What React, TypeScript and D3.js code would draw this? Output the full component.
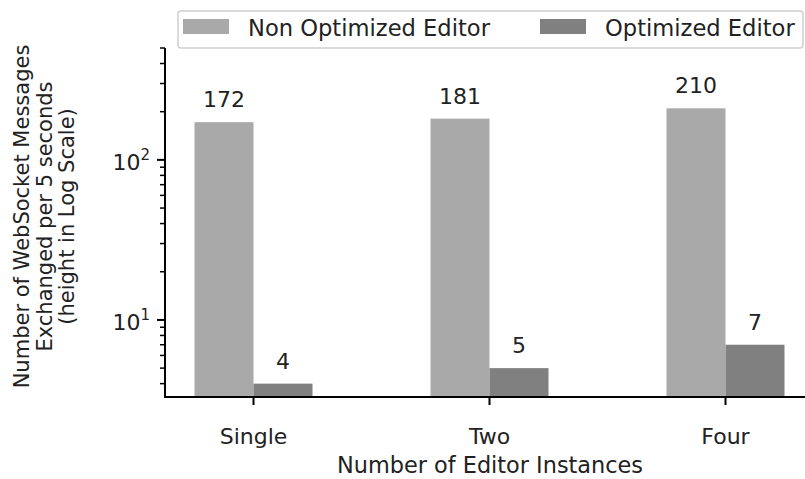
import React, { useEffect, useRef } from 'react';
import { select, scaleLog, scaleLinear } from 'd3';

const categories = ['Single', 'Two', 'Four'];
const nonOptimized = [172, 181, 210];
const optimized = [4, 5, 7];
const seriesNames = ['Non Optimized Editor', 'Optimized Editor'];
const majorTicks = [10, 100];
const minorTicks = [4, 5, 6, 7, 8, 9, 20, 30, 40, 50, 60, 70, 80, 90, 200, 300, 400, 500];
const yLabelLines = ['Number of WebSocket Messages', 'Exchanged per 5 seconds', '(height in Log Scale)'];

const dims = { width: 805, height: 479, left: 165, right: 814, top: 48, bottom: 397 };
const colors = ['#a9a9a9', '#808080'];
const font = 'DejaVu Sans, sans-serif';
const fs = 22;

const App: React.FC = () => {
  const svgRef = useRef<SVGSVGElement | null>(null);

  useEffect(() => {
    const svg = select(svgRef.current);
    svg.selectAll('*').remove();

    const y = scaleLog().domain([3.3, 500]).range([dims.bottom, dims.top]);
    const x = scaleLinear().domain([-0.375, 2.375]).range([dims.left, dims.right]);
    const bw = x(0.25) - x(0);

    const series = [nonOptimized, optimized];
    series.forEach((vals, s) => {
      const g = svg.append('g');
      g.selectAll('rect')
        .data(vals)
        .enter()
        .append('rect')
        .attr('x', (_, i) => x(i) - bw + s * bw)
        .attr('y', d => y(d))
        .attr('width', bw)
        .attr('height', d => dims.bottom - y(d))
        .attr('fill', colors[s]);
      g.selectAll('text')
        .data(vals)
        .enter()
        .append('text')
        .attr('x', (_, i) => x(i) - bw / 2 + s * bw)
        .attr('y', d => y(d) - 15)
        .attr('text-anchor', 'middle')
        .attr('font-family', font)
        .attr('font-size', fs)
        .attr('fill', '#222')
        .text(d => d);
    });

    // spines
    svg.append('line').attr('x1', dims.left).attr('x2', dims.left)
      .attr('y1', dims.top).attr('y2', dims.bottom + 1)
      .attr('stroke', '#000').attr('stroke-width', 2);
    svg.append('line').attr('x1', dims.left - 1).attr('x2', dims.width)
      .attr('y1', dims.bottom).attr('y2', dims.bottom)
      .attr('stroke', '#000').attr('stroke-width', 2);

    // y ticks
    svg.selectAll('.minor').data(minorTicks).enter().append('line')
      .attr('x1', dims.left - 5).attr('x2', dims.left)
      .attr('y1', d => y(d)).attr('y2', d => y(d))
      .attr('stroke', '#000').attr('stroke-width', 1.5);
    svg.selectAll('.major').data(majorTicks).enter().append('line')
      .attr('x1', dims.left - 8).attr('x2', dims.left)
      .attr('y1', d => y(d)).attr('y2', d => y(d))
      .attr('stroke', '#000').attr('stroke-width', 2);
    majorTicks.forEach(t => {
      const txt = svg.append('text')
        .attr('x', dims.left - 15).attr('y', y(t) + 10)
        .attr('text-anchor', 'end')
        .attr('font-family', font).attr('font-size', fs).attr('fill', '#222');
      txt.append('tspan').text('10');
      txt.append('tspan').attr('dy', -10).attr('font-size', 15).text(String(Math.round(Math.log10(t))));
    });

    // x ticks
    categories.forEach((c, i) => {
      svg.append('line').attr('x1', x(i)).attr('x2', x(i))
        .attr('y1', dims.bottom).attr('y2', dims.bottom + 8)
        .attr('stroke', '#000').attr('stroke-width', 2);
      svg.append('text').attr('x', x(i)).attr('y', 444)
        .attr('text-anchor', 'middle')
        .attr('font-family', font).attr('font-size', fs).attr('fill', '#222')
        .text(c);
    });

    svg.append('text').attr('x', 490).attr('y', 473)
      .attr('text-anchor', 'middle')
      .attr('font-family', font).attr('font-size', 22.4).attr('fill', '#222')
      .text('Number of Editor Instances');

    const cy = (dims.top + dims.bottom) / 2 - 6;
    yLabelLines.forEach((l, i) => {
      const lx = 29 + i * 22.5;
      svg.append('text')
        .attr('transform', `translate(${lx}, ${cy}) rotate(-90)`)
        .attr('text-anchor', 'middle')
        .attr('font-family', font).attr('font-size', 21).attr('fill', '#222')
        .text(l);
    });

    // legend
    const lg = svg.append('g');
    lg.append('rect').attr('x', 178).attr('y', 11).attr('width', 625).attr('height', 37)
      .attr('rx', 3).attr('fill', 'rgba(255,255,255,0.85)')
      .attr('stroke', '#d0d0d0').attr('stroke-width', 1.5);
    const legendX = [183, 540];
    seriesNames.forEach((n, i) => {
      lg.append('rect').attr('x', legendX[i]).attr('y', 19).attr('width', 46).attr('height', 15)
        .attr('fill', colors[i]);
      lg.append('text').attr('x', legendX[i] + 65).attr('y', 36)
        .attr('font-family', font).attr('font-size', 22.6).attr('fill', '#222')
        .text(n);
    });
  }, []);

  return (
    <svg ref={svgRef} width={dims.width} height={dims.height}
      style={{ position: 'absolute', left: 0, top: 0, background: '#fff' }} />
  );
};

export default App;
